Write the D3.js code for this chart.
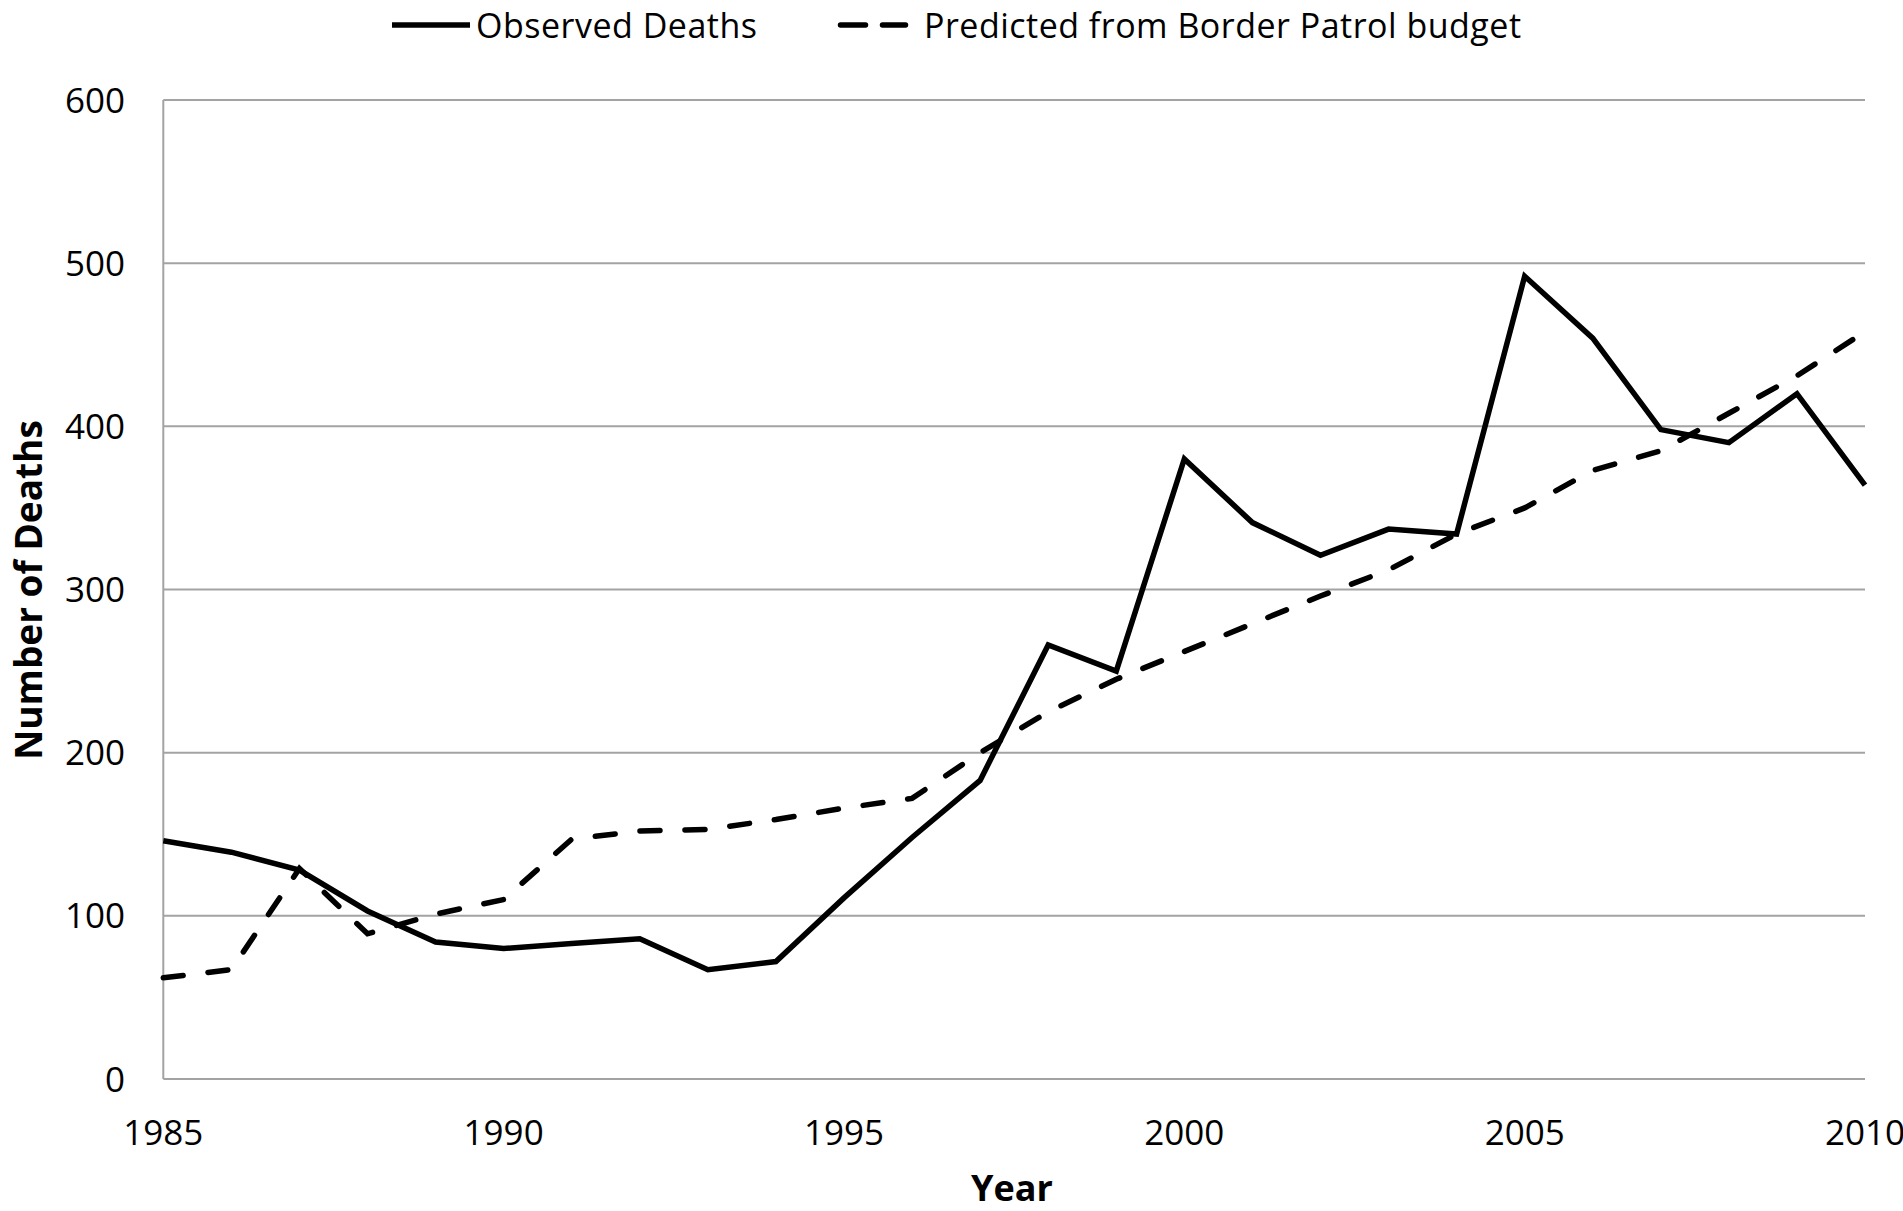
<!DOCTYPE html>
<html>
<head>
<meta charset="utf-8">
<script src="https://cdn.jsdelivr.net/npm/d3@7"></script>
<style>
  html, body { margin: 0; padding: 0; background: #fff; overflow: hidden; }
  svg { display: block; }
  text { font-family: "Open Sans", "Noto Sans", sans-serif; fill: #000; }
</style>
</head>
<body>
<svg id="chart" width="1903" height="1211"></svg>
<script>
const years = [1985,1986,1987,1988,1989,1990,1991,1992,1993,1994,1995,1996,1997,1998,1999,2000,2001,2002,2003,2004,2005,2006,2007,2008,2009,2010];
const observedDeaths = [146,139,128,103,84,80,83,86,67,72,111,148,183,266,250,380,341,321,337,334,492,454,398,390,420,364];
const predictedDeaths = [62,67,129,89,101,110,147,152,153,159,166,172,200,225,245,262,279,296,312,334,350,373,385,408,431,458];
const yTicks = [0,100,200,300,400,500,600];
const xTicks = [1985,1990,1995,2000,2005,2010];
const seriesNames = ["Observed Deaths", "Predicted from Border Patrol budget"];
const axisTitles = { x: "Year", y: "Number of Deaths" };

(function () {
const svg = d3.select("#chart");
const plotLeft = 163.3, plotRight = 1865, plotTop = 100, plotBottom = 1079;

const x = d3.scaleLinear().domain([1985, 2010]).range([plotLeft, plotRight]);
const y = d3.scaleLinear().domain([0, 600]).range([plotBottom, plotTop]);

// gridlines
svg.append("g")
  .selectAll("line")
  .data(yTicks)
  .join("line")
  .attr("x1", plotLeft).attr("x2", plotRight)
  .attr("y1", d => y(d)).attr("y2", d => y(d))
  .attr("stroke", "#a3a3a3").attr("stroke-width", 2);

// y axis line
svg.append("line")
  .attr("x1", plotLeft).attr("x2", plotLeft)
  .attr("y1", plotTop).attr("y2", plotBottom)
  .attr("stroke", "#a3a3a3").attr("stroke-width", 2);

// y tick labels
svg.append("g")
  .selectAll("text")
  .data(yTicks)
  .join("text")
  .attr("x", 125)
  .attr("y", d => y(d))
  .attr("dy", "0.36em")
  .attr("text-anchor", "end")
  .style("font-size", "35px")
  .text(d => d);

// x tick labels
svg.append("g")
  .selectAll("text")
  .data(xTicks)
  .join("text")
  .attr("x", d => x(d))
  .attr("y", 1145)
  .attr("text-anchor", "middle")
  .style("font-size", "35px")
  .text(d => d);

// lines
const line = (vals) => d3.line()
  .x((d, i) => x(years[i]))
  .y(d => y(d))(vals);

svg.append("path")
  .attr("d", line(predictedDeaths))
  .attr("fill", "none")
  .attr("stroke", "#000")
  .attr("stroke-width", 5.5)
  .attr("stroke-dasharray", "20,25")
  .attr("stroke-linecap", "round");

svg.append("path")
  .attr("d", line(observedDeaths))
  .attr("fill", "none")
  .attr("stroke", "#000")
  .attr("stroke-width", 5.5)
  .attr("stroke-linejoin", "miter");

// axis titles
svg.append("text")
  .attr("x", 1012).attr("y", 1201)
  .attr("text-anchor", "middle")
  .style("font-size", "36px").style("font-weight", "bold")
  .text(axisTitles.x);

svg.append("text")
  .attr("transform", "translate(42,590) rotate(-90)")
  .attr("text-anchor", "middle")
  .style("font-size", "37px").style("font-weight", "bold")
  .text(axisTitles.y);

// legend
const lg = svg.append("g");
lg.append("line")
  .attr("x1", 392).attr("x2", 470).attr("y1", 25).attr("y2", 25)
  .attr("stroke", "#000").attr("stroke-width", 5.5);
lg.append("text")
  .attr("x", 476).attr("y", 38)
  .style("font-size", "34px")
  .attr("textLength", 281)
  .text(seriesNames[0]);
lg.append("line")
  .attr("x1", 840.5).attr("x2", 905.5).attr("y1", 25).attr("y2", 25)
  .attr("stroke", "#000").attr("stroke-width", 5.5)
  .attr("stroke-dasharray", "25,17").attr("stroke-linecap", "round");
lg.append("text")
  .attr("x", 924).attr("y", 38)
  .style("font-size", "34px")
  .attr("textLength", 597)
  .text(seriesNames[1]);
})();
</script>
</body>
</html>
